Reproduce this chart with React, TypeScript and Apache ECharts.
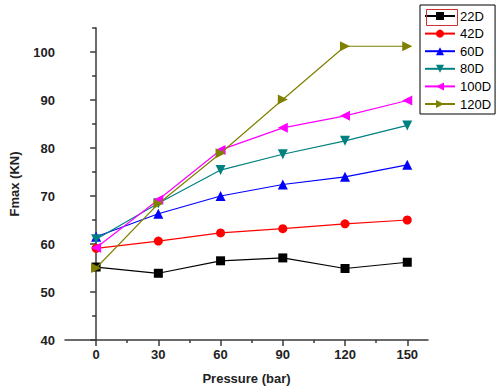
import React, { useEffect, useRef } from "react";
import * as echarts from "echarts";

const pressures = [0, 30, 60, 90, 120, 150];
const seriesNames = ["22D", "42D", "60D", "80D", "100D", "120D"];
const d22 = [55.2, 53.9, 56.5, 57.1, 54.9, 56.2];
const d42 = [59.1, 60.6, 62.3, 63.2, 64.2, 65.0];
const d60 = [61.5, 66.3, 70.0, 72.4, 74.0, 76.5];
const d80 = [61.0, 68.5, 75.4, 78.7, 81.5, 84.7];
const d100 = [59.2, 69.2, 79.6, 84.2, 86.7, 89.9];
const d120 = [55.0, 68.4, 78.9, 90.1, 101.2, 101.2];
const xMajorTicks = [0, 30, 60, 90, 120, 150];
const xMinorTicks = [15, 45, 75, 105, 135];
const yMajorTicks = [40, 50, 60, 70, 80, 90, 100];
const yMinorTicks = [45, 55, 65, 75, 85, 95, 105];

const colors = ["#000000", "#FF0000", "#0000FF", "#008080", "#FF00FF", "#808000"];
const symbols = [
  "rect",
  "circle",
  "triangle",
  "path://M0,0 L10,0 L5,10 Z",
  "path://M10,0 L0,5 L10,10 Z",
  "path://M0,0 L10,5 L0,10 Z",
];
const allData = [d22, d42, d60, d80, d100, d120];

export default function App() {
  const ref = useRef<HTMLDivElement>(null);
  useEffect(() => {
    const chart = echarts.init(ref.current!, null, { renderer: "svg" });
    const font = "Arial, 'Liberation Sans', sans-serif";
    const axisColor = "#3a3a3a";
    chart.setOption({
      animation: false,
      backgroundColor: "#ffffff",
      grid: { left: 58, right: 72, top: 28, bottom: 49, containLabel: false },
      legend: {
        orient: "vertical",
        left: 420,
        top: 5,
        itemWidth: 30,
        itemHeight: 10,
        itemGap: 3.6,
        padding: [4, 4, 3, 4],
        borderColor: "#000",
        borderWidth: 1,
        textStyle: { fontSize: 13, fontFamily: font, color: "#000", lineHeight: 14 },
        data: seriesNames,
      },
      xAxis: [
        {
          type: "value",
          min: -15,
          max: 160,
          name: "Pressure (bar)",
          nameLocation: "middle",
          nameGap: 32,
          nameTextStyle: { fontSize: 13, fontWeight: "bold", fontFamily: font, color: "#222" },
          splitLine: { show: false },
          axisLine: { show: true, lineStyle: { color: axisColor, width: 1.5 } },
          axisTick: { show: true, customValues: xMajorTicks, length: 6, lineStyle: { color: axisColor, width: 1.5 } },
          axisLabel: {
            customValues: xMajorTicks,
            fontSize: 13,
            fontWeight: "bold",
            fontFamily: font,
            color: "#222",
            margin: 8,
          },
        },
        {
          type: "value",
          min: -15,
          max: 160,
          position: "bottom",
          splitLine: { show: false },
          axisLine: { show: false },
          axisTick: { show: true, customValues: xMinorTicks, length: 3, lineStyle: { color: axisColor, width: 1.5 } },
          axisLabel: { show: false },
        },
      ],
      yAxis: [
        {
          type: "value",
          min: 40,
          max: 105,
          name: "Fmax (KN)",
          nameLocation: "middle",
          nameGap: 44,
          nameTextStyle: { fontSize: 13, fontWeight: "bold", fontFamily: font, color: "#222" },
          splitLine: { show: false },
          axisLine: { show: true, lineStyle: { color: axisColor, width: 1.5 } },
          axisTick: { show: true, customValues: yMajorTicks, length: 6, lineStyle: { color: axisColor, width: 1.5 } },
          axisLabel: {
            customValues: yMajorTicks,
            fontSize: 13,
            fontWeight: "bold",
            fontFamily: font,
            color: "#222",
            margin: 10,
          },
        },
        {
          type: "value",
          min: 40,
          max: 105,
          position: "left",
          splitLine: { show: false },
          axisLine: { show: false },
          axisTick: { show: true, customValues: yMinorTicks, length: 4, lineStyle: { color: axisColor, width: 1.5 } },
          axisLabel: { show: false },
        },
      ],
      series: seriesNames.map((name, i) => ({
        name,
        type: "line",
        xAxisIndex: 0,
        yAxisIndex: 0,
        data: pressures.map((p, j) => [p, allData[i][j]]),
        symbol: symbols[i],
        symbolSize: i <= 1 ? 9 : 10,
        showSymbol: true,
        color: colors[i],
        lineStyle: { color: colors[i], width: 1.2 },
        itemStyle: { color: colors[i] },
        z: 2 + i,
      })),
      graphic: [
        {
          type: "rect",
          left: 424,
          top: 7,
          shape: { width: 31, height: 16 },
          style: { fill: "none", stroke: "#d03030", lineWidth: 1 },
          z: 100,
        },
      ],
    });
    return () => chart.dispose();
  }, []);
  return (
    <div
      ref={ref}
      style={{ position: "absolute", left: 0, top: 0, width: 500, height: 390 }}
    />
  );
}
